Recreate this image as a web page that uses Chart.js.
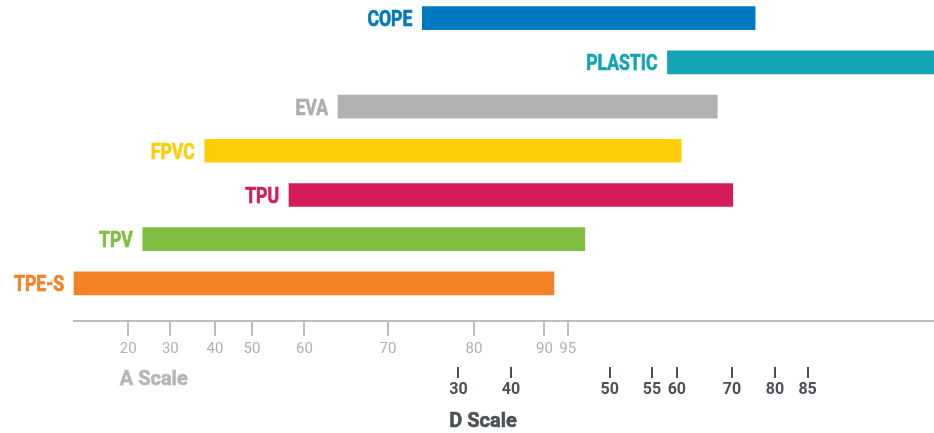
<!DOCTYPE html>
<html>
<head>
<meta charset="utf-8">
<script src="https://cdn.jsdelivr.net/npm/chart.js@4/dist/chart.umd.min.js"></script>
<style>
  html, body { margin: 0; padding: 0; background: #fff; }
  #wrap { width: 934px; height: 433px; position: relative; }
</style>
</head>
<body>
<div id="wrap"><canvas id="chart"></canvas></div>
<script>
// hardness ranges on a common 0-100 position axis (top row first)
const categories = ['COPE', 'PLASTIC', 'EVA', 'FPVC', 'TPU', 'TPV', 'TPE-S'];
const rangeStart = [40.5, 69.0, 30.7, 15.2, 25.0, 8.0, 0];
const rangeEnd = [79.2, 100, 74.8, 70.6, 76.6, 59.4, 55.8];
const colors = ['#0079c1', '#14a5b4', '#b2b3b1', '#fecd06', '#d51b5a', '#80bd41', '#f28225'];

// Shore A and Shore D scales placed on the same axis
const aTickLabels = [20, 30, 40, 50, 60, 70, 80, 90, 95];
const aTickPos = [6.3, 11.2, 16.4, 20.7, 26.8, 36.5, 46.5, 54.7, 57.4];
const dTickLabels = [30, 40, 50, 55, 60, 70, 80, 85];
const dTickPos = [44.7, 50.8, 62.3, 67.2, 70.1, 76.5, 81.5, 85.3];

const LABEL_FONT = 'Roboto, "Liberation Sans", sans-serif';

/* bar names right next to the start of each bar, plus the two scale titles */
const barLabels = {
    id: 'barLabels',
    afterDatasetsDraw(chart) {
        const ctx = chart.ctx;
        const meta = chart.getDatasetMeta(0);
        ctx.save();
        ctx.font = 'bold 22px ' + LABEL_FONT;
        ctx.textAlign = 'right';
        ctx.textBaseline = 'alphabetic';
        ctx.lineWidth = 0.7;
        meta.data.forEach((bar, i) => {
            const left = Math.min(bar.base, bar.x);
            const c = i === 2 ? '#acaeac' : colors[i];
            ctx.save();
            ctx.translate(left - 10, bar.y + 8);
            ctx.scale(0.8, 1);
            ctx.fillStyle = c;
            ctx.strokeStyle = c;
            ctx.fillText(categories[i], 0, 0);
            ctx.strokeText(categories[i], 0, 0);
            ctx.restore();
        });
        ctx.restore();
    },
    afterDraw(chart) {
        const ctx = chart.ctx;
        const xA = chart.scales.x;
        const xD = chart.scales.xD;
        ctx.save();
        ctx.textBaseline = 'alphabetic';
        ctx.textAlign = 'left';

        ctx.font = '15px ' + LABEL_FONT;
        const aFirst = xA.getPixelForValue(aTickPos[0]) - ctx.measureText(String(aTickLabels[0])).width / 2;
        ctx.font = 'bold 16px ' + LABEL_FONT;
        const dFirst = xD.getPixelForValue(dTickPos[0]) - ctx.measureText(String(dTickLabels[0])).width / 2;

        ctx.font = 'bold 20px ' + LABEL_FONT;
        ctx.lineWidth = 0.5;
        ctx.save();
        ctx.translate(aFirst, xD.top + 18);
        ctx.fillStyle = ctx.strokeStyle = '#b4b5b4';
        ctx.fillText('A Scale', 0, 0);
        ctx.strokeText('A Scale', 0, 0);
        ctx.restore();

        ctx.save();
        ctx.translate(dFirst, xD.bottom + 28);
        ctx.fillStyle = ctx.strokeStyle = '#4b5055';
        ctx.fillText('D Scale', 0, 0);
        ctx.strokeText('D Scale', 0, 0);
        ctx.restore();
        ctx.restore();
    }
};

const ctx = document.getElementById('chart');
const hardnessChart = new Chart(ctx, {
    type: 'bar',
    data: {
        datasets: [{
            data: categories.map((c, i) => ({ x: [rangeStart[i], rangeEnd[i]], y: i })),
            backgroundColor: colors,
            hoverBackgroundColor: colors,
            barThickness: 23,
            clip: false
        }]
    },
    options: {
        indexAxis: 'y',
        responsive: true,
        maintainAspectRatio: false,
        animation: false,
        layout: { padding: { left: 74, right: 0, top: 0, bottom: 34 } },
        plugins: {
            legend: { display: false },
            tooltip: { enabled: false },
            title: { display: false }
        },
        scales: {
            y: {
                type: 'linear',
                display: false,
                reverse: true,
                offset: false,
                bounds: 'data',
                min: -0.41,
                max: 6.85
            },
            x: {
                type: 'linear',
                position: 'bottom',
                weight: 0,
                min: 0,
                max: 100,
                afterBuildTicks: (axis) => { axis.ticks = aTickPos.map(v => ({ value: v })); },
                afterFit: (axis) => { axis.height = 46; },
                border: { display: true, color: '#bdbdbd', width: 2 },
                grid: { drawOnChartArea: false, drawTicks: true, tickLength: 15, color: '#bdbdbd', lineWidth: 2 },
                ticks: {
                    autoSkip: false,
                    maxRotation: 0,
                    minRotation: 0,
                    padding: 4,
                    color: '#b0b0b0',
                    font: { family: LABEL_FONT, size: 15 },
                    callback: (value, index) => aTickLabels[index]
                }
            },
            xD: {
                type: 'linear',
                position: 'bottom',
                weight: 1,
                min: 0,
                max: 100,
                afterBuildTicks: (axis) => { axis.ticks = dTickPos.map(v => ({ value: v })); },
                afterFit: (axis) => { axis.height = 32; },
                border: { display: false },
                grid: { drawOnChartArea: false, drawTicks: true, tickLength: 11, color: '#4b5055', lineWidth: 2 },
                ticks: {
                    autoSkip: false,
                    maxRotation: 0,
                    minRotation: 0,
                    padding: 2,
                    color: '#4b5055',
                    font: { family: LABEL_FONT, size: 16, weight: 'bold' },
                    callback: (value, index) => dTickLabels[index]
                }
            }
        }
    },
    plugins: [barLabels]
});
</script>
</body>
</html>
